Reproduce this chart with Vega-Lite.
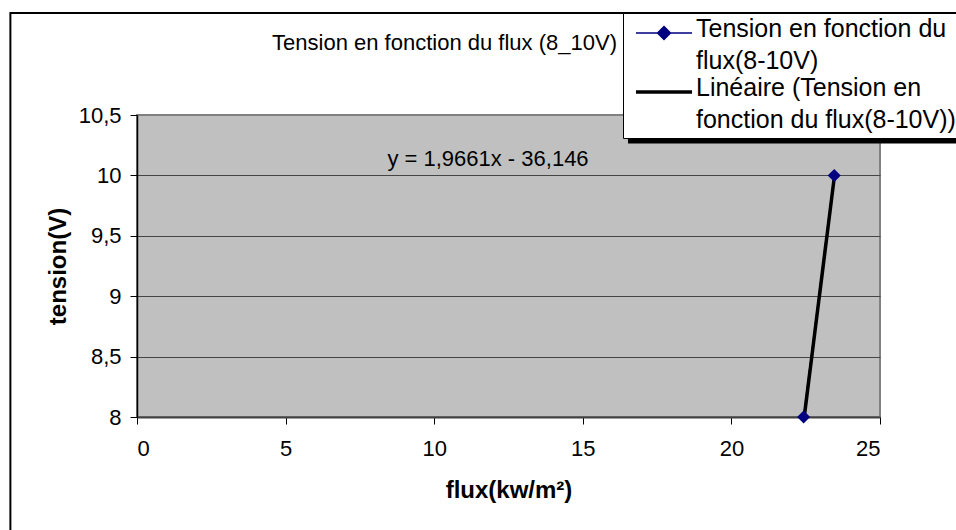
{
  "$schema": "https://vega.github.io/schema/vega-lite/v6.json",
  "width": 743,
  "height": 302,
  "autosize": {"type": "none"},
  "padding": {"left": 137, "top": 115, "right": 76, "bottom": 113},
  "background": "white",
  "title": {
    "text": "Tension en fonction du flux (8_10V)",
    "anchor": "middle",
    "frame": "group",
    "dx": -64,
    "dy": 60,
    "baseline": "alphabetic",
    "offset": 0,
    "font": "Liberation Sans",
    "fontSize": 22,
    "fontWeight": "normal",
    "color": "#000000"
  },
  "data": {
    "values": [
      {"series": "Tension en fonction du flux(8-10V)", "flux": 22.43, "tension": 8},
      {"series": "Tension en fonction du flux(8-10V)", "flux": 23.46, "tension": 10},
      {"series": "Linéaire (Tension en fonction du flux(8-10V))", "flux": 22.45, "tension": 8},
      {"series": "Linéaire (Tension en fonction du flux(8-10V))", "flux": 23.47, "tension": 10}
    ]
  },
  "layer": [
    {
      "data": {"values": [{}]},
      "mark": {"type": "rect", "fill": null, "fillOpacity": 0, "stroke": "#000000", "strokeWidth": 2, "clip": false},
      "encoding": {
        "x": {"datum": -4.26, "type": "quantitative", "scale": {"domain": [0, 25], "nice": false, "zero": false}},
        "x2": {"datum": 40},
        "y": {"datum": 11.344, "type": "quantitative", "scale": {"domain": [8, 10.5], "nice": false, "zero": false}},
        "y2": {"datum": 5}
      }
    },
    {
      "data": {"values": [{}]},
      "mark": {"type": "rect", "fill": "#000000", "clip": false},
      "encoding": {
        "x": {"datum": 16.52, "type": "quantitative"},
        "x2": {"datum": 40},
        "y": {"datum": 11.286, "type": "quantitative"},
        "y2": {"datum": 10.264}
      }
    },
    {
      "mark": {"type": "line", "clip": false},
      "encoding": {
        "x": {"field": "flux", "type": "quantitative", "scale": {"domain": [0, 25], "nice": false, "zero": false},
          "axis": {
            "values": [0, 5, 10, 15, 20, 25],
            "title": "flux(kw/m²)",
            "titleFont": "Liberation Sans",
            "titleFontSize": 24,
            "titleFontWeight": "bold",
            "titleColor": "#000000",
            "titleBaseline": "alphabetic",
            "titleY": 80,
            "domainColor": "#404040",
            "domainWidth": 2,
            "tickColor": "#000000",
            "tickSize": 7,
            "tickWidth": 1,
            "labelPadding": 14,
            "labelFont": "Liberation Sans",
            "labelFontSize": 22,
            "labelColor": "#000000",
            "grid": false
          }
        },
        "y": {"field": "tension", "type": "quantitative", "scale": {"domain": [8, 10.5], "nice": false, "zero": false},
          "axis": {
            "values": [8, 8.5, 9, 9.5, 10, 10.5],
            "labelExpr": "replace(toString(datum.value), '.', ',')",
            "title": "tension(V)",
            "titleFont": "Liberation Sans",
            "titleFontSize": 24,
            "titleFontWeight": "bold",
            "titleColor": "#000000",
            "titleAngle": -90,
            "titleBaseline": "alphabetic",
            "titleAlign": "center",
            "titleX": -72,
            "titleY": 151,
            "domainColor": "#000000",
            "domainWidth": 1.5,
            "tickColor": "#000000",
            "tickSize": 7,
            "tickWidth": 1,
            "labelPadding": 9,
            "labelFont": "Liberation Sans",
            "labelFontSize": 22,
            "labelColor": "#000000",
            "grid": true,
            "gridColor": {"condition": {"test": "datum.value == 10.5", "value": "#808080"}, "value": "#454545"},
            "gridWidth": 1
          }
        },
        "color": {
          "field": "series",
          "type": "nominal",
          "scale": {
            "domain": ["Tension en fonction du flux(8-10V)", "Linéaire (Tension en fonction du flux(8-10V))"],
            "range": ["#000080", "#000000"]
          },
          "legend": {
            "orient": "none",
            "legendX": 486,
            "legendY": -102,
            "title": null,
            "direction": "vertical",
            "fillColor": "#ffffff",
            "strokeColor": "#000000",
            "padding": 5,
            "symbolSize": 784,
            "symbolType": "M-2,0H2",
            "symbolOffset": 20,
            "labelFont": "Liberation Sans",
            "labelFontSize": 25,
            "labelColor": "#000000",
            "labelLimit": 2000,
            "labelBaseline": "alphabetic",
            "labelOffset": 16,
            "labelExpr": "datum.index === 0 ? ['Tension en fonction du', 'flux(8-10V)'] : ['Linéaire (Tension en', 'fonction du flux(8-10V))']",
            "encode": {
              "symbols": {
                "update": {
                  "shape": {"signal": "datum.index === 0 ? 'M-2,0H2M0,-0.46L0.46,0L0,0.46L-0.46,0Z' : 'M-2,0H2'"},
                  "strokeWidth": {"signal": "datum.index === 0 ? 1.5 : 3.5"},
                  "fill": {"signal": "datum.index === 0 ? '#000080' : '#000000'"},
                  "stroke": {"signal": "datum.index === 0 ? '#000080' : '#000000'"},
                  "opacity": {"value": 1}
                }
              },
              "labels": {
                "update": {"dy": {"value": 4}, "lineHeight": {"value": 32}}
              }
            }
          }
        },
        "strokeWidth": {
          "field": "series",
          "type": "nominal",
          "scale": {
            "domain": ["Tension en fonction du flux(8-10V)", "Linéaire (Tension en fonction du flux(8-10V))"],
            "range": [1.5, 3.5]
          },
          "legend": null
        }
      }
    },
    {
      "transform": [{"filter": "datum.series === 'Tension en fonction du flux(8-10V)'"}],
      "mark": {"type": "point", "shape": "diamond", "filled": true, "size": 170, "color": "#000080", "opacity": 1, "clip": false},
      "encoding": {
        "x": {"field": "flux", "type": "quantitative"},
        "y": {"field": "tension", "type": "quantitative"}
      }
    },
    {
      "data": {"values": [{}]},
      "mark": {"type": "text", "text": "y = 1,9661x - 36,146", "font": "Liberation Sans", "fontSize": 22, "color": "#000000", "align": "center", "baseline": "alphabetic"},
      "encoding": {
        "x": {"datum": 11.81, "type": "quantitative"},
        "y": {"datum": 10.078, "type": "quantitative"}
      }
    }
  ],
  "config": {
    "view": {"fill": "#C0C0C0", "stroke": "#808080", "strokeWidth": 2},
    "font": "Liberation Sans"
  }
}
